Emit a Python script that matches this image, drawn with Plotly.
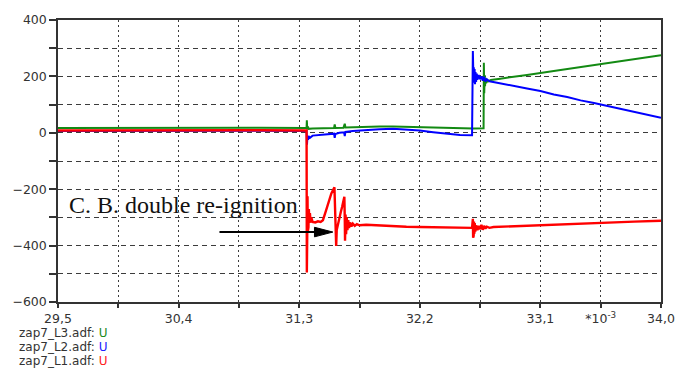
import plotly.graph_objects as go

# Time axis in ms (*10^-3 s), voltages per phase
t_L3 = [29.5, 30.0, 30.5, 31.0, 31.355, 31.357, 31.360, 31.365, 31.37, 31.40, 31.45, 31.50,
        31.56, 31.565, 31.57, 31.63, 31.64, 31.645, 31.70, 31.80, 31.9, 32.0, 32.1, 32.2,
        32.3, 32.4, 32.5, 32.6, 32.676, 32.678, 32.681, 32.684, 32.687, 32.69, 32.695,
        32.70, 32.71, 32.73, 32.8, 32.9, 33.0, 33.2, 33.4, 33.6, 33.8, 34.0]
u_L3 = [17, 18, 17, 18, 17, 44, 12, 22, 14, 15, 16, 18,
        17, 30, 17, 18, 32, 19, 20, 21, 22, 22, 21, 20,
        18, 16, 15, 15, 16, 248, 140, 205, 165, 195, 175,
        190, 182, 187, 192, 198, 205, 219, 233, 247, 261, 275]

t_L2 = [29.5, 30.0, 30.5, 31.0, 31.355, 31.358, 31.362, 31.366, 31.37, 31.38, 31.40, 31.45,
        31.50, 31.56, 31.565, 31.57, 31.60, 31.635, 31.64, 31.645, 31.70, 31.80, 31.9, 32.0,
        32.1, 32.2, 32.3, 32.4, 32.5, 32.59, 32.596, 32.600, 32.603, 32.606, 32.609, 32.612,
        32.616, 32.62, 32.625, 32.63, 32.64, 32.65, 32.66, 32.67, 32.68, 32.69, 32.70, 32.72,
        32.75, 32.8, 32.85, 32.9, 33.0, 33.1, 33.2, 33.3, 33.4, 33.5, 33.6, 33.7, 33.8, 33.9, 34.0]
u_L2 = [6, 7, 6, 7, 6, -42, -10, -25, -12, -18, -10, -8,
        -5, -3, -18, -4, 0, 2, -12, 3, 6, 10, 13, 14,
        12, 8, 2, -4, -8, -9, 290, 200, 232, 178, 226, 172,
        215, 180, 210, 188, 205, 190, 200, 185, 198, 182, 190, 183,
        180, 176, 172, 167, 157, 148, 136, 127, 115, 106, 95, 85, 74, 64, 53]

t_L1 = [29.5, 30.0, 30.5, 31.0, 31.355, 31.357, 31.358, 31.360, 31.362, 31.364, 31.366,
        31.369, 31.372, 31.376, 31.380, 31.385, 31.39, 31.40, 31.42, 31.44, 31.46, 31.477,
        31.50, 31.52, 31.54, 31.563, 31.568, 31.572, 31.576, 31.580, 31.59, 31.60, 31.61,
        31.62, 31.63, 31.637, 31.640, 31.642, 31.646, 31.650, 31.655, 31.660, 31.666, 31.672,
        31.680, 31.690, 31.70, 31.715, 31.73, 31.75, 31.80, 31.9, 32.0, 32.1, 32.2, 32.3,
        32.4, 32.5, 32.59, 32.596, 32.598, 32.600, 32.602, 32.604, 32.607, 32.610, 32.614,
        32.62, 32.63, 32.64, 32.65, 32.66, 32.67, 32.68, 32.69, 32.70, 32.72, 32.75, 32.8,
        32.9, 33.0, 33.2, 33.4, 33.6, 33.8, 34.0]
u_L1 = [8, 9, 8, 9, 8, -495, -215, -360, -225, -350, -250,
        -335, -270, -320, -285, -318, -300, -316, -318, -314, -316, -310,
        -276, -245, -215, -193, -280, -360, -401, -345, -320, -300, -282,
        -263, -244, -227, -300, -383, -290, -360, -300, -345, -310, -338,
        -318, -332, -322, -330, -324, -328, -326, -329, -331, -333, -334, -335,
        -336, -337, -337, -305, -372, -310, -365, -315, -358, -320, -350,
        -328, -345, -330, -342, -326, -344, -330, -340, -333, -337, -334, -333,
        -331, -329, -325, -321, -318, -315, -312]

x_ticks = [29.5, 29.95, 30.4, 30.85, 31.3, 31.75, 32.2, 32.65, 33.1, 33.55, 34.0]
x_labels = ["29,5", "", "30,4", "", "31,3", "", "32,2", "", "33,1", "*10<sup>-3</sup>", "34,0"]
y_ticks = [-600, -400, -200, 0, 200, 400]
y_minor = [-500, -300, -100, 100, 300]

legend_rows = [("zap7_L3.adf", "#1a8a1a"), ("zap7_L2.adf", "#2020ff"), ("zap7_L1.adf", "#ff2020")]

fig = go.Figure()
fig.add_trace(go.Scatter(x=t_L3, y=u_L3, mode="lines", line=dict(color="#138a13", width=2)))
fig.add_trace(go.Scatter(x=t_L2, y=u_L2, mode="lines", line=dict(color="#0000ff", width=2)))
fig.add_trace(go.Scatter(x=t_L1, y=u_L1, mode="lines", line=dict(color="#ff0000", width=2.4)))

tick_font = dict(family="DejaVu Sans, Arial, sans-serif", size=12.5, color="#333")
grid_col = "#3c3c3c"

fig.update_layout(
    width=696, height=369,
    margin=dict(l=56, r=35, t=13, b=67),
    paper_bgcolor="white", plot_bgcolor="white",
    showlegend=False,
    xaxis=dict(
        range=[29.5, 34.0], tickvals=x_ticks, ticktext=x_labels,
        ticks="outside", ticklen=4, tickcolor="#333", tickwidth=1.5,
        showline=True, linecolor="#333", linewidth=1.5, mirror=True,
        showgrid=True, gridcolor=grid_col, gridwidth=1, griddash="2px,3px",
        zeroline=False, tickfont=tick_font,
    ),
    yaxis=dict(
        range=[-600, 400], tickvals=y_ticks,
        ticks="outside", ticklen=7, tickcolor="#333", tickwidth=1.5,
        showline=True, linecolor="#333", linewidth=1.5, mirror=True,
        showgrid=True, gridcolor=grid_col, gridwidth=1, griddash="5px,4px",
        minor=dict(tickvals=y_minor, ticks="outside", ticklen=7,
                   tickcolor="#333", showgrid=True, gridcolor=grid_col, griddash="5px,4px"),
        zeroline=False, tickfont=tick_font,
    ),
)

# label of the re-ignition event
fig.add_annotation(
    x=30.437, y=-255, xref="x", yref="y", text="C. B. double re-ignition",
    showarrow=False, font=dict(family="Liberation Serif, Times New Roman, serif", size=24, color="#111"),
)
# arrow pointing at the re-ignition transients
arrow_y = -352
fig.add_shape(type="line", xref="x", yref="y", x0=30.705, x1=31.42, y0=arrow_y, y1=arrow_y,
              line=dict(color="#000", width=2))
fig.add_shape(type="path", xref="x", yref="y",
              path=f"M 31.551,{arrow_y} L 31.414,{arrow_y + 17} L 31.414,{arrow_y - 17} Z",
              fillcolor="#000", line=dict(color="#000", width=1))

# channel list below the axis
for i, (name, col) in enumerate(legend_rows):
    fig.add_annotation(
        x=-0.068, y=-0.109 - i * 0.05, xref="paper", yref="paper", xanchor="left", yanchor="middle",
        text=f"{name}: <span style='color:{col}'>U</span>", showarrow=False,
        font=dict(family="DejaVu Sans, Arial, sans-serif", size=12, color="#333"),
    )

fig.write_html("out.html")
